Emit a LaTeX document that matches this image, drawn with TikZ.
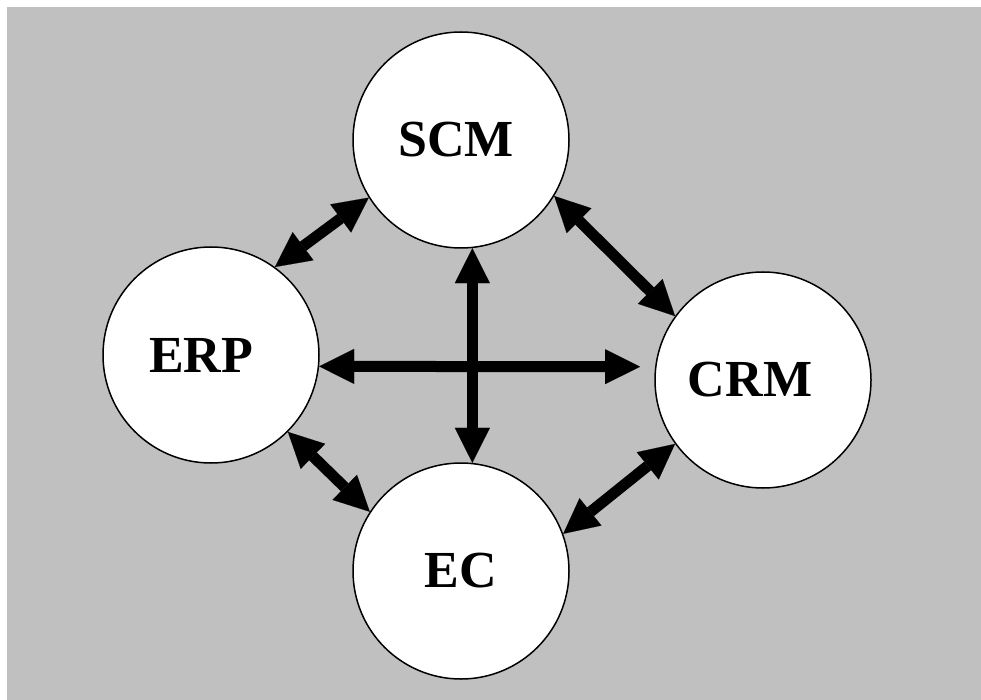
\documentclass[tikz,border=0pt]{standalone}
\usepackage{fontspec}
\setmainfont{Liberation Serif}
\usetikzlibrary{arrows.meta}
\definecolor{bgc}{RGB}{192,192,192}
\begin{document}
\begin{tikzpicture}[x=1pt,y=-1pt,
  sys/.style={circle,draw=black,line width=1.5pt,fill=white,minimum size=216pt,inner sep=0pt,
    font=\fontsize{52}{52}\selectfont\bfseries},
  tipc/.tip={Triangle[length=35pt,width=35pt,line width=0.1pt]},
  link/.style={draw=black,line width=11pt,tipc-tipc}]
\useasboundingbox (0,0) rectangle (981,700);
\fill[bgc] (7,7) rectangle (981,700);
\node[sys] (scm) at (461,140) {SCM\kern10pt};
\node[sys] (erp) at (211,355) {ERP\kern20pt};
\node[sys] (crm) at (763,380) {CRM\kern26pt};
\node[sys] (ec) at (461,571) {EC};
\draw[link] (scm.212) -- (erp.54);
\draw[link] (scm.329) -- (crm.144);
\draw[link] (scm.276) -- (ec.84);
\draw[link,shorten >=15pt] (erp.354) -- (crm.173);
\draw[link] (erp.315) -- (ec.147);
\draw[link] (crm.216) -- (ec.20);
\end{tikzpicture}
\end{document}
